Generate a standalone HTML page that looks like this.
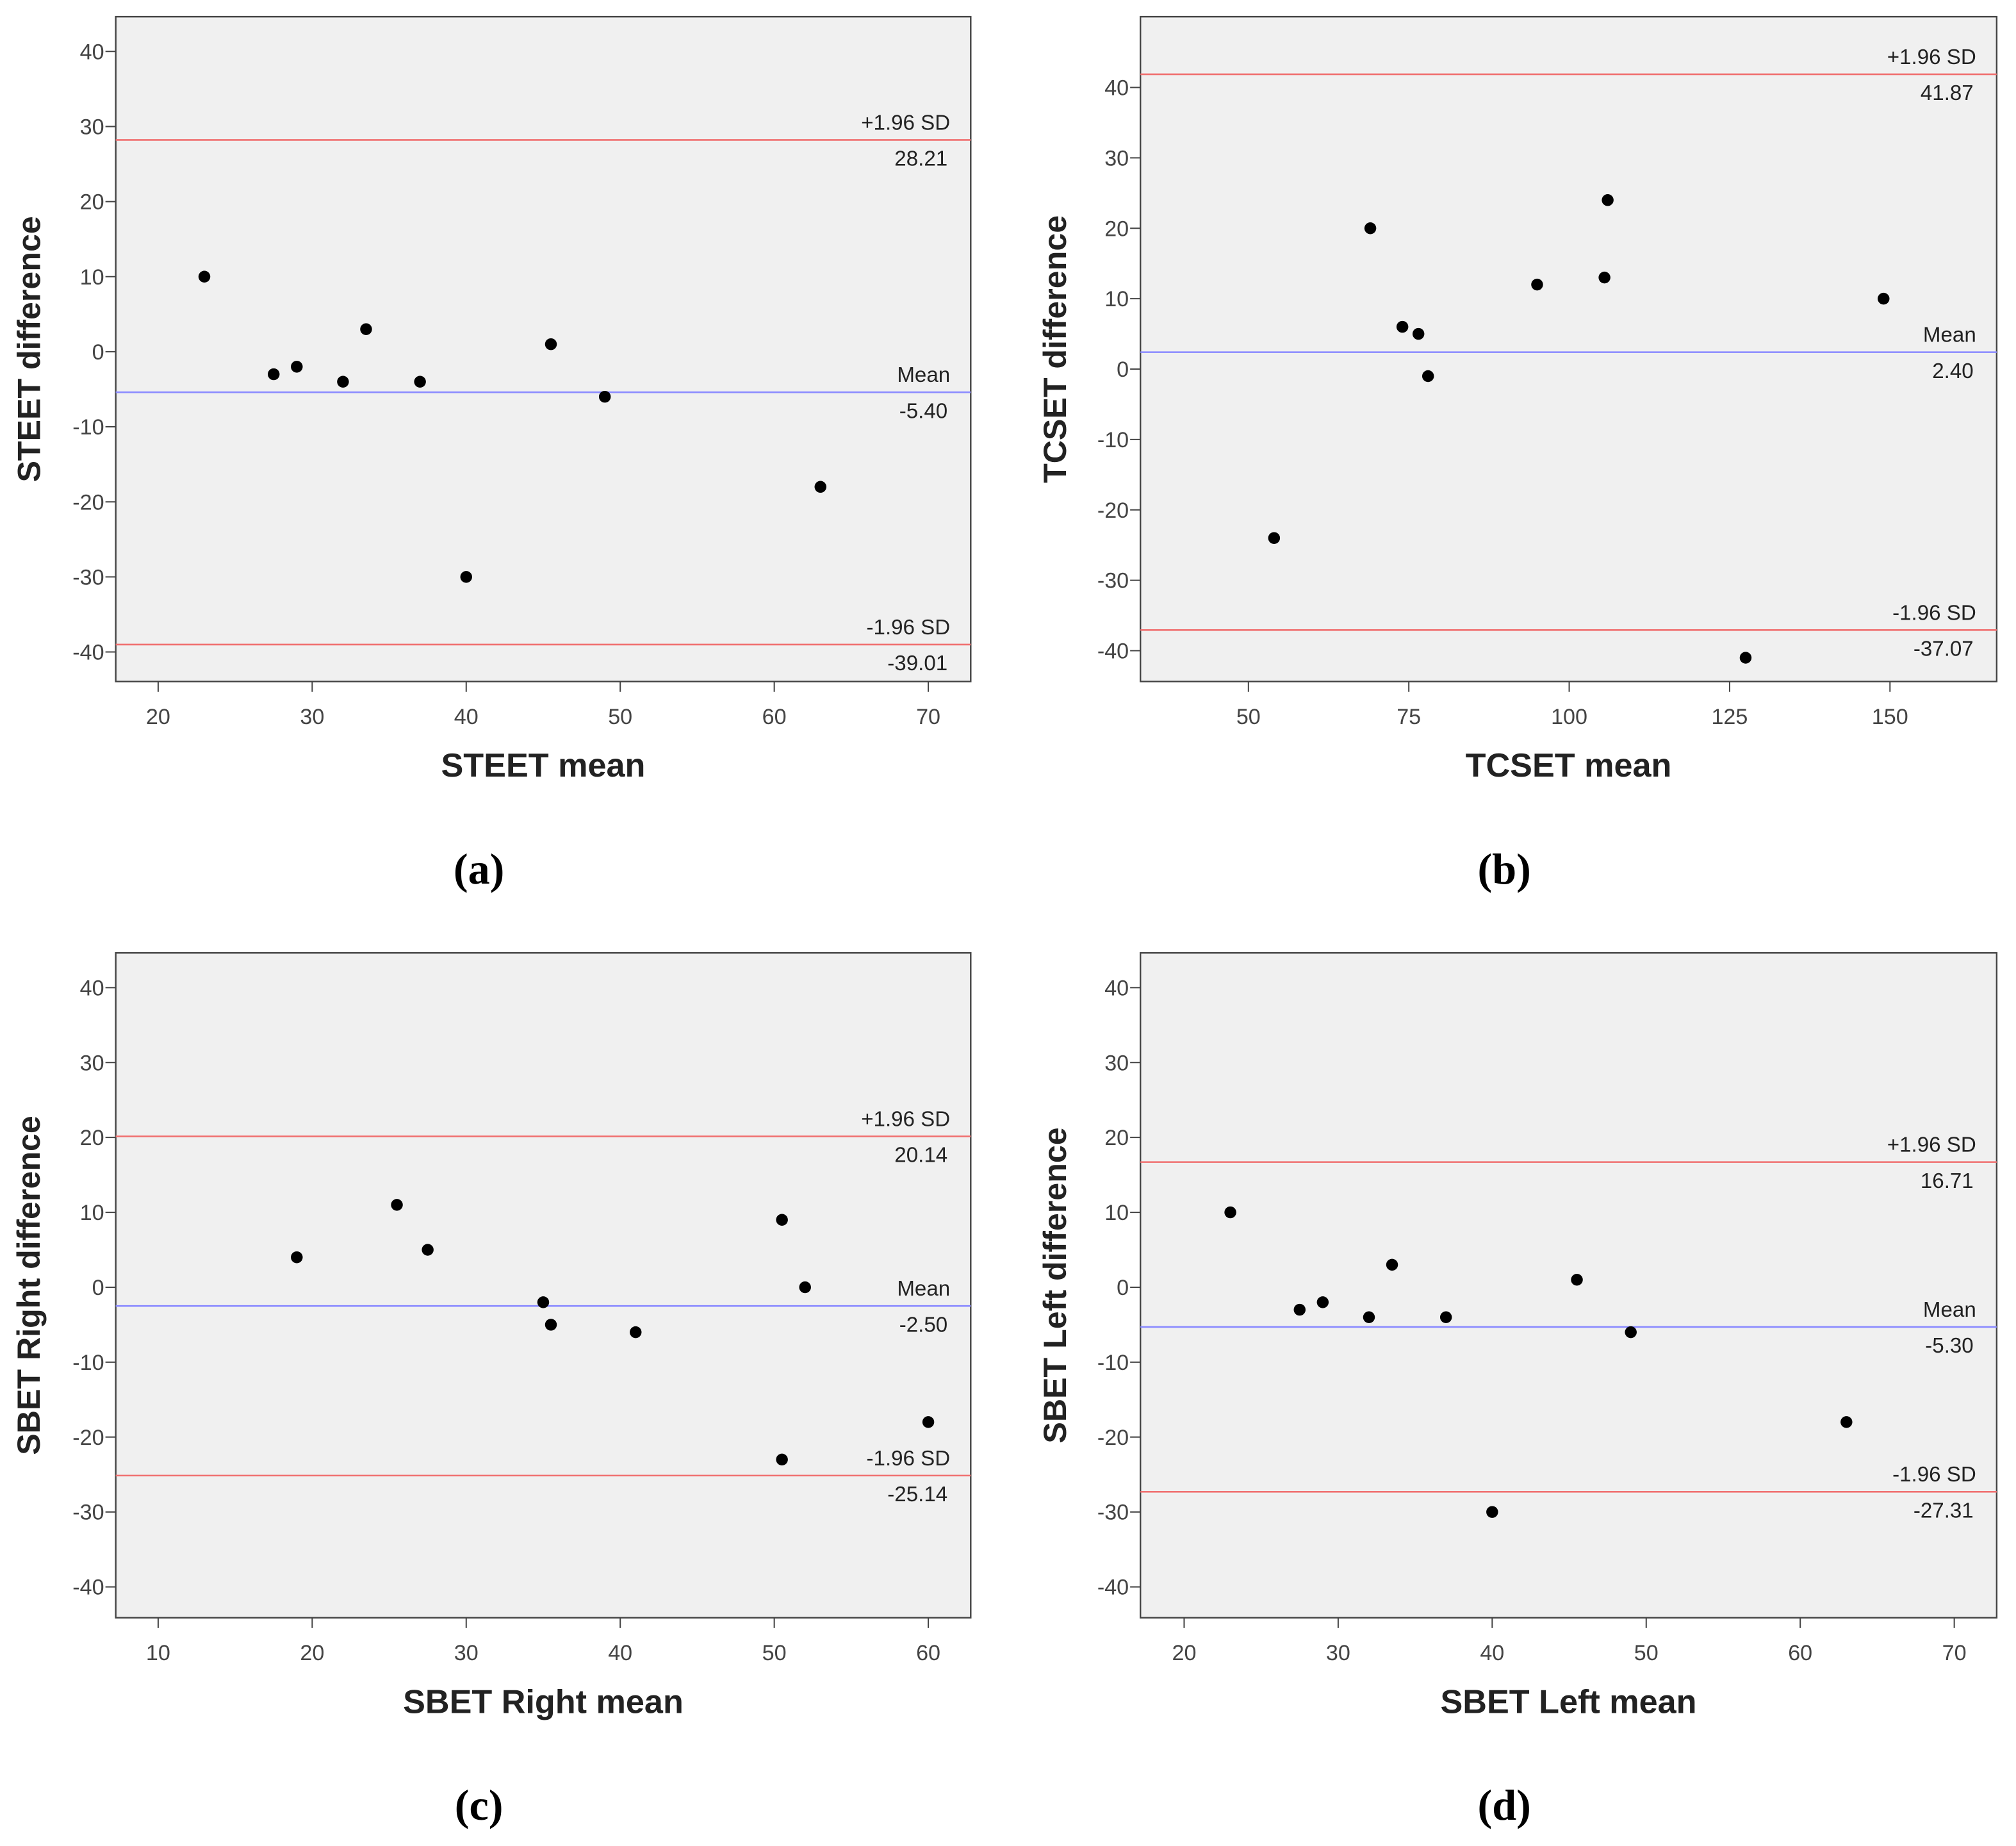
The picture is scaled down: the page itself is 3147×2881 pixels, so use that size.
<!DOCTYPE html>
<html><head><meta charset="utf-8"><style>
html,body{margin:0;padding:0;background:#fff}
svg{display:block}
text{font-family:"Liberation Sans",sans-serif}
text.serif{font-family:"Liberation Serif",serif}
</style></head><body>
<svg id="fig" xmlns="http://www.w3.org/2000/svg" width="3147" height="2881" viewBox="0 0 1568 1435.5"></svg>
<script>
// Panel (a)
const aX = [23,27.5,29,32,33.5,37,40,45.5,49,63];
const aY = [10,-3,-2,-4,3,-4,-30,1,-6,-18];
const aLines = [28.21,-5.40,-39.01];
const aXTicks = [20,30,40,50,60,70];
// Panel (b)
const bX = [54,69,74,76.5,78,95,105.5,106,127.5,149];
const bY = [-24,20,6,5,-1,12,13,24,-41,10];
const bLines = [41.87,2.40,-37.07];
const bXTicks = [50,75,100,125,150];
// Panel (c)
const cX = [19,25.5,27.5,35,35.5,41,50.5,50.5,52,60];
const cY = [4,11,5,-2,-5,-6,9,-23,0,-18];
const cLines = [20.14,-2.50,-25.14];
const cXTicks = [10,20,30,40,50,60];
// Panel (d)
const dX = [23,27.5,29,32,33.5,37,40,45.5,49,63];
const dY = [10,-3,-2,-4,3,-4,-30,1,-6,-18];
const dLines = [16.71,-5.30,-27.31];
const dXTicks = [20,30,40,50,60,70];
const yTicks = [40,30,20,10,0,-10,-20,-30,-40];
const lineNames = ['+1.96 SD','Mean','-1.96 SD'];

const NS='http://www.w3.org/2000/svg';
const svg=document.getElementById('fig');
function mk(tag,attrs,parent,txt){const e=document.createElementNS(NS,tag);for(const k in attrs)e.setAttribute(k,attrs[k]);if(txt!==undefined)e.textContent=txt;(parent||svg).appendChild(e);return e;}

function panel(cfg){
  const g=mk('g',{});
  
  
  const {L,R,T,B}=cfg;
  const xs=v=>cfg.x0px+(v-cfg.x0)*(cfg.x1px-cfg.x0px)/(cfg.x1-cfg.x0);
  const ys=v=>cfg.y40+(40-v)*(cfg.ym40-cfg.y40)/80;
  const bg=mk('rect',{x:L,y:T,width:R-L,height:B-T,fill:'#f0f0f0',stroke:'#444','stroke-width':1.2},g);
  
  
  yTicks.forEach(t=>{
    const y=ys(t);
    mk('line',{x1:L-8,x2:L,y1:y,y2:y,stroke:'#444','stroke-width':1},g);
    const tx=mk('text',{x:L-9,y:y+6,'text-anchor':'end','font-size':17,fill:'#444'},g,String(t));
    
    
  });
  cfg.xt.forEach(t=>{
    const x=xs(t);
    mk('line',{x1:x,x2:x,y1:B,y2:B+8,stroke:'#444','stroke-width':1},g);
    const tx=mk('text',{x:x,y:B+33,'text-anchor':'middle','font-size':17,fill:'#444'},g,String(t));
    
    
  });
  cfg.lines.forEach((v,i)=>{
    const y=ys(v);
    const ln=mk('line',{x1:L,x2:R,y1:y,y2:y,stroke:i===1?'#8a8aff':'#f07070','stroke-width':1.3},g);
    
    
    const t1=mk('text',{x:R-16,y:y-8,'text-anchor':'end','font-size':16.5,fill:'#222'},g,lineNames[i]);
    
    
    const t2=mk('text',{x:R-18,y:y+20,'text-anchor':'end','font-size':16.5,fill:'#222'},g,v.toFixed(2));
    
    
  });
  cfg.px.forEach((v,i)=>{
    const c=mk('circle',{cx:xs(v),cy:ys(cfg.py[i]),r:4.6,fill:'#000'},g);
    
    
  });
  const xt=mk('text',{x:(L+R)/2,y:B+74,'text-anchor':'middle','font-size':26,'font-weight':'bold',fill:'#222'},g,cfg.xtitle);
  
  
  const cy=(T+B)/2;
  const yt=mk('text',{x:cfg.ytx,y:cy,'text-anchor':'middle','font-size':25,'font-weight':'bold',fill:'#222',transform:`rotate(-90 ${cfg.ytx} ${cy})`},g,cfg.ytitle);
  
  
  const pl=mk('text',{x:(L+R)/2-50,y:B+157,'text-anchor':'middle','font-size':34,'font-weight':'bold',fill:'#000','class':'serif'},g,cfg.label);
  
  
}

panel({name:'panel-a',L:90,R:755,T:13,B:530,x0:20,x1:70,x0px:123,x1px:722,y40:40,ym40:507,xt:aXTicks,px:aX,py:aY,lines:aLines,xtitle:'STEET mean',ytitle:'STEET difference',ytx:31,label:'(a)'});
panel({name:'panel-b',L:887,R:1553,T:13,B:530,x0:50,x1:150,x0px:971,x1px:1470,y40:68,ym40:506,xt:bXTicks,px:bX,py:bY,lines:bLines,xtitle:'TCSET mean',ytitle:'TCSET difference',ytx:829,label:'(b)'});
panel({name:'panel-c',L:90,R:755,T:741,B:1258,x0:10,x1:60,x0px:123,x1px:722,y40:768,ym40:1234,xt:cXTicks,px:cX,py:cY,lines:cLines,xtitle:'SBET Right mean',ytitle:'SBET Right difference',ytx:31,label:'(c)'});
panel({name:'panel-d',L:887,R:1553,T:741,B:1258,x0:20,x1:70,x0px:921,x1px:1520,y40:768,ym40:1234,xt:dXTicks,px:dX,py:dY,lines:dLines,xtitle:'SBET Left mean',ytitle:'SBET Left difference',ytx:829,label:'(d)'});
</script>
</body></html>
